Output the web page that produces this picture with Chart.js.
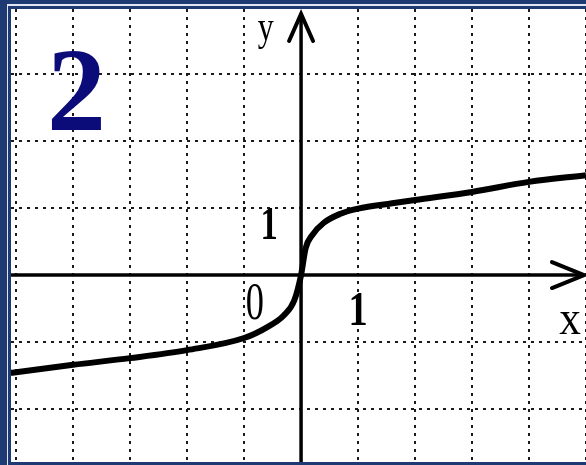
<!DOCTYPE html>
<html>
<head>
<meta charset="utf-8">
<script src="https://cdn.jsdelivr.net/npm/chart.js@4/dist/chart.umd.min.js"></script>
<style>
  html, body { margin: 0; padding: 0; }
  body { width: 586px; height: 465px; background: #1d3a72; position: relative; overflow: hidden; }
  #stripe { position: absolute; left: 7px; top: 4px; width: 579px; height: 461px;
            border-left: 1px solid #dfe6f2; border-top: 2px solid #dfe6f2; box-sizing: border-box; }
  #box { position: absolute; left: 11px; top: 9px; width: 575px; height: 453px; background: #fff; }
  #num { position: absolute; left: 47px; top: 32px; font: bold 118px "Liberation Serif", serif;
         color: #0b0b7a; line-height: 1; z-index: 2; }
</style>
</head>
<body>
<div id="stripe"></div>
<div id="box"><canvas id="graphChart"></canvas></div>
<div id="num">2</div>
<script>
// точки кривой
const xValues = [-5.1, -5, -4, -3, -2, -1, -0.6, -0.3, -0.12, 0, 0.08, 0.2, 0.4, 0.68, 1, 1.6, 2, 3, 4, 5];
const yValues = [-1.46, -1.45, -1.34, -1.24, -1.12, -0.94, -0.78, -0.6, -0.38, 0, 0.4, 0.6, 0.78, 0.91, 0.99, 1.07, 1.12, 1.24, 1.39, 1.49];

// границы осей
const xMin = -5.09, xMax = 5.0;
const yMin = -2.79, yMax = 3.97;

// подписи на рисунке
const axisLabels = [
  { text: 'y', x: -0.62, y: 3.5, font: '40px "Liberation Serif", serif', sx: 0.8 },
  { text: '1', x: -0.56, y: 0.54, font: 'bold 46px "Liberation Serif", serif', sx: 0.75 },
  { text: '0', x: -0.81, y: -0.65, font: '52px "Liberation Serif", serif', sx: 0.7 },
  { text: '1', x: 1.0, y: -0.75, font: 'bold 48px "Liberation Serif", serif', sx: 0.8 },
  { text: 'x', x: 4.72, y: -0.88, font: '48px "Liberation Serif", serif', sx: 0.9 }
];

const points = xValues.map((x, i) => ({ x: x, y: yValues[i] }));

const axesPlugin = {
  id: 'axesArrows',
  afterDatasetsDraw(chart) {
    const ctx = chart.ctx;
    const sx = chart.scales.x, sy = chart.scales.y;
    const x0 = sx.getPixelForValue(0), y0 = sy.getPixelForValue(0);
    const area = chart.chartArea;
    ctx.save();
    ctx.strokeStyle = '#000';
    ctx.fillStyle = '#000';
    ctx.lineWidth = 3.5;
    // ось x
    ctx.beginPath();
    ctx.moveTo(area.left, y0);
    ctx.lineTo(area.right - 2, y0);
    ctx.stroke();
    // ось y
    ctx.beginPath();
    ctx.moveTo(x0, area.bottom);
    ctx.lineTo(x0, area.top + 4);
    ctx.stroke();
    // стрелки
    ctx.lineWidth = 4;
    ctx.lineCap = 'round';
    ctx.beginPath();
    ctx.moveTo(x0 - 12, area.top + 32);
    ctx.lineTo(x0, area.top + 5);
    ctx.lineTo(x0 + 12, area.top + 32);
    ctx.stroke();
    ctx.beginPath();
    ctx.moveTo(area.right - 34, y0 - 13);
    ctx.lineTo(area.right - 2, y0);
    ctx.lineTo(area.right - 34, y0 + 13);
    ctx.stroke();
    // подписи
    ctx.textAlign = 'center';
    ctx.textBaseline = 'alphabetic';
    axisLabels.forEach(l => {
      const px = sx.getPixelForValue(l.x), py = sy.getPixelForValue(l.y);
      ctx.save();
      ctx.translate(px, py);
      ctx.scale(l.sx, 1);
      ctx.font = l.font;
      ctx.fillText(l.text, 0, 0);
      ctx.restore();
    });
    ctx.restore();
  }
};

const gridOpts = {
  color: ctx => (ctx.tick && ctx.tick.value === 0) ? 'rgba(0,0,0,0)' : '#1a1a1a',
  lineWidth: 2,
  drawTicks: false
};

new Chart(document.getElementById('graphChart'), {
  type: 'scatter',
  data: {
    datasets: [{
      data: points,
      showLine: true,
      borderColor: '#000',
      borderWidth: 6,
      pointRadius: 0,
      cubicInterpolationMode: 'monotone'
    }]
  },
  options: {
    responsive: true,
    maintainAspectRatio: false,
    animation: false,
    layout: { padding: 0 },
    plugins: { legend: { display: false }, tooltip: { enabled: false } },
    scales: {
      x: {
        type: 'linear', min: xMin, max: xMax,
        ticks: { display: false, stepSize: 1, includeBounds: false },
        grid: gridOpts,
        border: { display: false, dash: [3, 5] }
      },
      y: {
        type: 'linear', min: yMin, max: yMax,
        ticks: { display: false, stepSize: 1, includeBounds: false },
        grid: gridOpts,
        border: { display: false, dash: [3, 5] }
      }
    }
  },
  plugins: [axesPlugin]
});
</script>
</body>
</html>
